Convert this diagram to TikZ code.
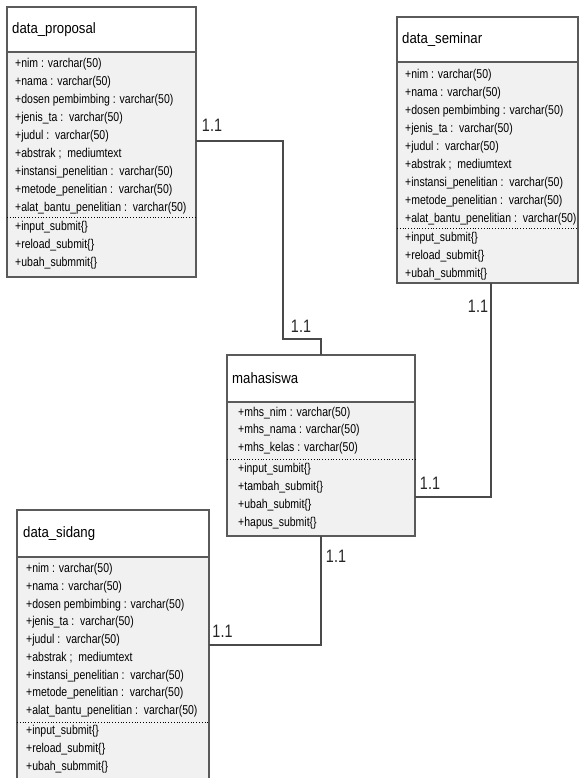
\documentclass[tikz,border=0pt]{standalone}
\usepackage{fontspec}
\setmainfont{Liberation Sans}
\newfontfamily\narrowfont{Liberation Sans}[FakeStretch=0.88]
\newfontfamily\attrfont{Liberation Sans}[FakeStretch=0.82]
\newfontfamily\multfont{Liberation Sans}[FakeStretch=0.8]
\definecolor{boxline}{HTML}{5A5A5A}
\definecolor{bodyfill}{HTML}{F1F1F1}
\definecolor{connline}{HTML}{4A4A4A}
\begin{document}
\begin{tikzpicture}[x=1pt,y=-1pt,
  classbox/.style={draw=boxline, line width=1.3pt, fill=bodyfill, anchor=north west, inner sep=0pt, outer sep=0pt},
  hdrbox/.style={draw=boxline, line width=1.3pt, fill=white, anchor=north west, inner sep=0pt, outer sep=0pt},
  hdrtext/.style={anchor=west, inner sep=0pt, font=\narrowfont\fontsize{15}{17}\selectfont},
  attr/.style={anchor=west, inner sep=0pt, font=\attrfont\fontsize{12.8}{14}\selectfont},
  sep/.style={dotted, line width=0.8pt, black},
  conn/.style={draw=connline, line width=1.3pt},
  mult/.style={inner sep=0pt, text=black!85, font=\multfont\fontsize{18}{20}\selectfont}]
\useasboundingbox (0,0) rectangle (579,778);
\clip (0,0) rectangle (579,778);

% ---------- data_proposal ----------
\node[classbox, minimum width=189pt, minimum height=270pt] (prop) at (7,7) {};
\node[hdrbox, minimum width=189pt, minimum height=45pt] (proph) at (7,7) {};
\node[hdrtext] (propt) at (12,29.5) {data\_proposal};
\draw[sep] (prop.west |- 0,217) -- (prop.east |- 0,217);
\node[attr] (pa1) at (15,64) {+nim : varchar(50)};
\node[attr] (pa2) at (15,82) {+nama : varchar(50)};
\node[attr] (pa3) at (15,100) {+dosen pembimbing : varchar(50)};
\node[attr] (pa4) at (15,118) {+jenis\_ta :\ \ varchar(50)};
\node[attr] (pa5) at (15,136) {+judul :\ \ varchar(50)};
\node[attr] (pa6) at (15,154) {+abstrak ;\ \ mediumtext};
\node[attr] (pa7) at (15,172) {+instansi\_penelitian :\ \ varchar(50)};
\node[attr] (pa8) at (15,190) {+metode\_penelitian :\ \ varchar(50)};
\node[attr] (pa9) at (15,208) {+alat\_bantu\_penelitian :\ \ varchar(50)};
\node[attr] (pm1) at (15,227) {+input\_submit\{\}};
\node[attr] (pm2) at (15,245) {+reload\_submit\{\}};
\node[attr] (pm3) at (15,263) {+ubah\_submmit\{\}};

% ---------- data_seminar ----------
\node[classbox, minimum width=181pt, minimum height=266pt] (sem) at (397,17) {};
\node[hdrbox, minimum width=181pt, minimum height=45pt] (semh) at (397,17) {};
\node[hdrtext] (semt) at (402,39.5) {data\_seminar};
\draw[sep] (sem.west |- 0,228) -- (sem.east |- 0,228);
\node[attr] (sa1) at (405,75) {+nim : varchar(50)};
\node[attr] (sa2) at (405,93) {+nama : varchar(50)};
\node[attr] (sa3) at (405,111) {+dosen pembimbing : varchar(50)};
\node[attr] (sa4) at (405,129) {+jenis\_ta :\ \ varchar(50)};
\node[attr] (sa5) at (405,147) {+judul :\ \ varchar(50)};
\node[attr] (sa6) at (405,165) {+abstrak ;\ \ mediumtext};
\node[attr] (sa7) at (405,183) {+instansi\_penelitian :\ \ varchar(50)};
\node[attr] (sa8) at (405,201) {+metode\_penelitian :\ \ varchar(50)};
\node[attr] (sa9) at (405,219) {+alat\_bantu\_penelitian :\ \ varchar(50)};
\node[attr] (sm1) at (405,238) {+input\_submit\{\}};
\node[attr] (sm2) at (405,256) {+reload\_submit\{\}};
\node[attr] (sm3) at (405,274) {+ubah\_submmit\{\}};

% ---------- mahasiswa ----------
\node[classbox, minimum width=188pt, minimum height=181pt] (mhs) at (227,355) {};
\node[hdrbox, minimum width=188pt, minimum height=47pt] (mhsh) at (227,355) {};
\node[hdrtext] (mhst) at (232,378.5) {mahasiswa};
\draw[sep] (mhs.west |- 0,459) -- (mhs.east |- 0,459);
\node[attr] (ma1) at (238,413) {+mhs\_nim : varchar(50)};
\node[attr] (ma2) at (238,430.5) {+mhs\_nama : varchar(50)};
\node[attr] (ma3) at (238,448) {+mhs\_kelas : varchar(50)};
\node[attr] (mm1) at (238,469) {+input\_sumbit\{\}};
\node[attr] (mm2) at (238,487) {+tambah\_submit\{\}};
\node[attr] (mm3) at (238,505) {+ubah\_submit\{\}};
\node[attr] (mm4) at (238,523) {+hapus\_submit\{\}};

% ---------- data_sidang ----------
\node[classbox, minimum width=192pt, minimum height=290pt] (sid) at (17,510) {};
\node[hdrbox, minimum width=192pt, minimum height=47pt] (sidh) at (17,510) {};
\node[hdrtext] (sidt) at (23,534) {data\_sidang};
\draw[sep] (sid.west |- 0,722) -- (sid.east |- 0,722);
\node[attr] (da1) at (26,569) {+nim : varchar(50)};
\node[attr] (da2) at (26,587) {+nama : varchar(50)};
\node[attr] (da3) at (26,605) {+dosen pembimbing : varchar(50)};
\node[attr] (da4) at (26,622.5) {+jenis\_ta :\ \ varchar(50)};
\node[attr] (da5) at (26,640.5) {+judul :\ \ varchar(50)};
\node[attr] (da6) at (26,658) {+abstrak ;\ \ mediumtext};
\node[attr] (da7) at (26,676) {+instansi\_penelitian :\ \ varchar(50)};
\node[attr] (da8) at (26,693.5) {+metode\_penelitian :\ \ varchar(50)};
\node[attr] (da9) at (26,711) {+alat\_bantu\_penelitian :\ \ varchar(50)};
\node[attr] (dm1) at (26,731) {+input\_submit\{\}};
\node[attr] (dm2) at (26,749) {+reload\_submit\{\}};
\node[attr] (dm3) at (26,767) {+ubah\_submmit\{\}};

% ---------- connectors ----------
\draw[conn] (prop.east |- 0,141) -| (283,339) -| (mhs.north);
\draw[conn] (sem.south -| 491,0) |- (mhs.east |- 0,497);
\draw[conn] (mhs.south) |- (sid.east |- 0,645);

% ---------- multiplicities ----------
\node[mult] (l1) at (212,125) {1.1};
\node[mult] (l2) at (301,326) {1.1};
\node[mult] (l3) at (478,306) {1.1};
\node[mult] (l4) at (430,483) {1.1};
\node[mult] (l5) at (336,556) {1.1};
\node[mult] (l6) at (222.5,631) {1.1};
\end{tikzpicture}
\end{document}
